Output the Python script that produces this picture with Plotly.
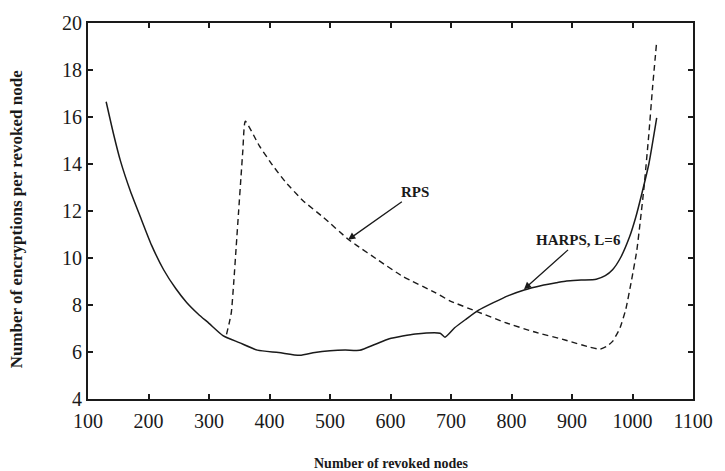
import plotly.graph_objects as go

# HARPS, L=6 (solid)
harps_x = [130, 142, 154, 170, 187, 205, 225, 245, 263, 282, 300, 323, 350, 380,
           415, 450, 475, 500, 525, 549, 575, 598, 620, 641, 682, 690, 706, 725,
           745, 770, 795, 821, 850, 875, 891, 915, 940, 955, 967, 980, 995, 1005,
           1016, 1027, 1040]
harps_y = [16.65, 15.3, 14.1, 12.85, 11.72, 10.55, 9.5, 8.7, 8.11, 7.62, 7.22, 6.7,
           6.4, 6.08, 5.98, 5.86, 5.98, 6.05, 6.08, 6.07, 6.33, 6.56, 6.68, 6.77,
           6.8, 6.63, 7.03, 7.4, 7.77, 8.1, 8.4, 8.64, 8.83, 8.95, 9.02, 9.06, 9.1,
           9.25, 9.5, 10.0, 10.89, 11.7, 12.8, 14.0, 15.96]

# RPS (dashed)
rps_x = [329, 334, 337, 341, 345, 349, 353, 356, 360, 383, 405, 426, 455, 489, 530,
         544, 579, 620, 674, 698, 745, 790, 837, 890, 930, 946, 958, 967, 979, 989,
         998, 1007, 1013, 1019, 1027, 1033, 1040]
rps_y = [6.75, 7.3, 7.7, 9.0, 10.5, 12.0, 13.5, 14.6, 15.82, 14.78, 13.95, 13.25,
         12.45, 11.73, 10.8, 10.54, 9.92, 9.22, 8.53, 8.18, 7.7, 7.25, 6.86, 6.5,
         6.2, 6.12, 6.25, 6.45, 7.0, 7.83, 9.0, 10.3, 11.6, 13.0, 15.27, 17.21, 19.22]

x_ticks = [100, 200, 300, 400, 500, 600, 700, 800, 900, 1000, 1100]
y_ticks = [4, 6, 8, 10, 12, 14, 16, 18, 20]

SERIF = "Liberation Serif, Times New Roman, serif"
INK = "#1a1a1a"

fig = go.Figure()
fig.add_trace(go.Scatter(x=harps_x, y=harps_y, mode="lines", name="HARPS, L=6",
                         line=dict(color=INK, width=1.5, shape="spline", smoothing=0.6)))
fig.add_trace(go.Scatter(x=rps_x, y=rps_y, mode="lines", name="RPS",
                         line=dict(color=INK, width=1.4, dash="6px,4px",
                                   shape="spline", smoothing=0.5)))

axis_common = dict(
    showgrid=False, zeroline=False, showline=True, linecolor=INK, linewidth=2,
    mirror="ticks", ticks="inside", ticklen=5, tickwidth=1.5, tickcolor=INK,
    tickfont=dict(family=SERIF, size=20, color=INK),
)
fig.update_xaxes(range=[100, 1100], tickvals=x_ticks, ticklabelstandoff=3, **axis_common)
fig.update_yaxes(range=[4, 20], tickvals=y_ticks, **axis_common)

label_font = dict(family=SERIF, size=15, color=INK)
fig.add_annotation(x=530, y=10.78, ax=641, ay=12.8, axref="x", ayref="y",
                   text="<b>RPS</b>", font=label_font, showarrow=True,
                   arrowhead=2, arrowsize=1.1, arrowwidth=1.3, arrowcolor=INK)
fig.add_annotation(x=820.7, y=8.67, ax=911, ay=10.75, axref="x", ayref="y",
                   text="<b>HARPS, L=6</b>", font=label_font, showarrow=True,
                   arrowhead=2, arrowsize=1.1, arrowwidth=1.3, arrowcolor=INK)

# axis titles
fig.add_annotation(xref="paper", yref="paper", x=0.5, y=-0.1725,
                   xanchor="center", yanchor="middle", showarrow=False,
                   text="<b>Number of revoked nodes</b>",
                   font=dict(family=SERIF, size=14, color=INK))
fig.add_annotation(xref="paper", yref="paper", x=-0.119, y=0.478,
                   xanchor="center", yanchor="middle", showarrow=False, textangle=-90,
                   text="<b>Number of encryptions per revoked node</b>",
                   font=dict(family=SERIF, size=17, color=INK))

fig.update_layout(
    width=725, height=471,
    margin=dict(l=88, r=24, t=15, b=72),
    paper_bgcolor="white", plot_bgcolor="white",
    showlegend=False,
)

fig.write_html("out.html")
